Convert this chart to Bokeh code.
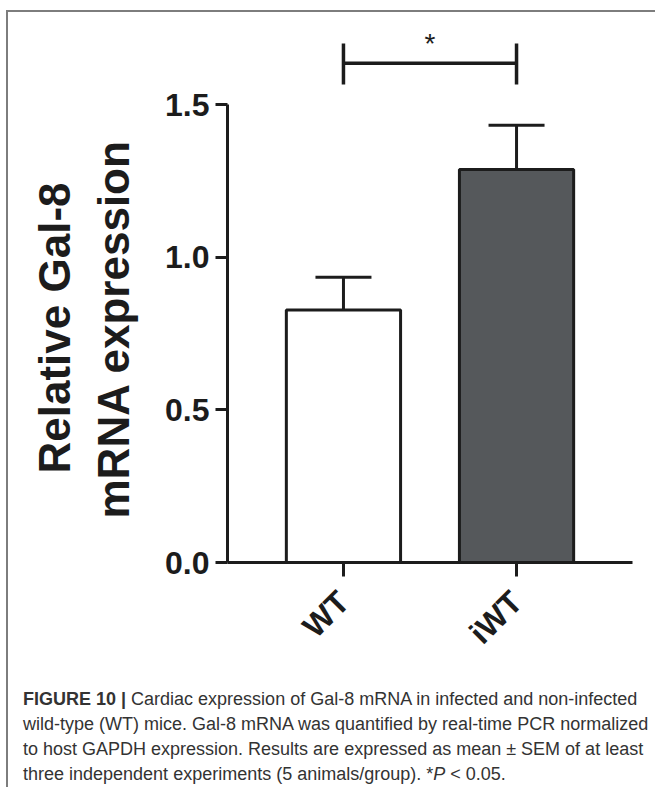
from math import pi
from bokeh.plotting import figure
from bokeh.layouts import column
from bokeh.models import (ColumnDataSource, FactorRange, Range1d, Whisker, TeeHead,
                          Title, Div, NumeralTickFormatter, FixedTicker)
from bokeh.embed import file_html
from bokeh.resources import INLINE
from bokeh.core.properties import value

# ---------------- data ----------------
groups = ["WT", "iWT"]
means = [0.827, 1.287]
sem = [0.107, 0.145]
bar_colors = ["#ffffff", "#55585b"]
y_ticks = [0.0, 0.5, 1.0, 1.5]
sig_pair = ["WT", "iWT"]
sig_text = "*"
sig_y = 1.635
sig_lo, sig_hi = 1.566, 1.700
y_label_lines = ["Relative Gal-8", "mRNA expression"]
caption_bold = "FIGURE 10 |"
caption_line1 = "Cardiac expression of Gal-8 mRNA in infected and non-infected"
caption_line2 = "wild-type (WT) mice. Gal-8 mRNA was quantified by real-time PCR normalized"
caption_line3 = "to host GAPDH expression. Results are expressed as mean &plusmn; SEM of at least"
caption_line4 = "three independent experiments (5 animals/group). *<i>P</i> &lt; 0.05."

# ---------------- layout ----------------
W, H = 645, 669
FL, FR, FT, FB = 219, 624, 8, 550          # frame edges in canvas px
PAD = 0.17
Y_END = 1.7753
INK = "#1c1c1c"

p = figure(width=W, height=H, output_backend="svg", toolbar_location=None,
           x_range=FactorRange(factors=groups, range_padding=PAD, range_padding_units="absolute"),
           y_range=Range1d(0, Y_END),
           min_border_left=FL, min_border_right=W - FR,
           min_border_top=FT, min_border_bottom=H - FB)
p.outline_line_color = None
p.grid.visible = False
p.background_fill_color = "white"
p.border_fill_color = "white"

src = ColumnDataSource(dict(x=groups, top=means,
                            upper=[m + s for m, s in zip(means, sem)],
                            color=bar_colors))
p.vbar(x="x", top="top", bottom=0, width=0.66, source=src,
       fill_color="color", line_color=INK, line_width=3)

p.add_layout(Whisker(base="x", lower="top", upper="upper", source=src,
                     line_color=INK, line_width=3, lower_head=None,
                     upper_head=TeeHead(size=56, line_color=INK, line_width=3)))

# significance bracket
p.segment(x0=[sig_pair[0]], y0=[sig_y], x1=[sig_pair[1]], y1=[sig_y],
          line_color=INK, line_width=3.5)
p.segment(x0=sig_pair, y0=[sig_lo, sig_lo], x1=sig_pair, y1=[sig_hi, sig_hi],
          line_color=INK, line_width=3.5)
p.text(x=[1.0], y=[1.699], text=[sig_text], text_align="center",
       text_baseline="alphabetic", text_font=value("Liberation Sans"),
       text_font_size="28px", text_color=INK)

# axes
ya = p.yaxis[0]
ya.ticker = FixedTicker(ticks=y_ticks)
ya.formatter = NumeralTickFormatter(format="0.0")
ya.bounds = (0, 1.5)
ya.axis_line_width = 3
ya.axis_line_color = INK
ya.major_tick_line_width = 3
ya.major_tick_line_color = INK
ya.major_tick_out = 12
ya.major_tick_in = 0
ya.minor_tick_line_color = None
ya.major_label_text_font = "Liberation Sans"
ya.major_label_text_font_style = "bold"
ya.major_label_text_font_size = "32px"
ya.major_label_text_color = INK
ya.major_label_standoff = 6

xa = p.xaxis[0]
xa.axis_line_width = 3
xa.axis_line_color = INK
xa.major_tick_line_width = 3
xa.major_tick_line_color = INK
xa.major_tick_out = 14
xa.major_tick_in = 0
xa.major_label_orientation = pi / 4
xa.major_label_text_font = "Liberation Sans"
xa.major_label_text_font_style = "bold"
xa.major_label_text_font_size = "32px"
xa.major_label_text_color = INK
xa.major_label_standoff = 20

# y-axis title, two lines (inner line first)
for txt, off, so in [(y_label_lines[1], 44, 49), (y_label_lines[0], 89, -33)]:
    p.add_layout(Title(text=txt, align="left", offset=off, standoff=so,
                       text_font="Liberation Sans", text_font_style="bold",
                       text_font_size="44px", text_color=INK), "left")

cap_html = (
    '<div style="font-family:\'Liberation Sans\',Arial,sans-serif;font-size:18px;'
    'line-height:25px;color:#333333;padding-left:10px;padding-top:1px;'
    'white-space:nowrap;margin:0;">'
    f'<b>{caption_bold}</b> {caption_line1}<br>{caption_line2}<br>'
    f'{caption_line3}<br>{caption_line4}</div>'
)
cap = Div(text=cap_html, width=W, height=102)

layout = column(p, cap, spacing=0,
                styles={"margin-left": "6px", "margin-top": "10px",
                        "border-left": "2px solid #7d7d7d",
                        "border-top": "2px solid #7d7d7d"})

open("out.html", "w").write(file_html(layout, INLINE))
